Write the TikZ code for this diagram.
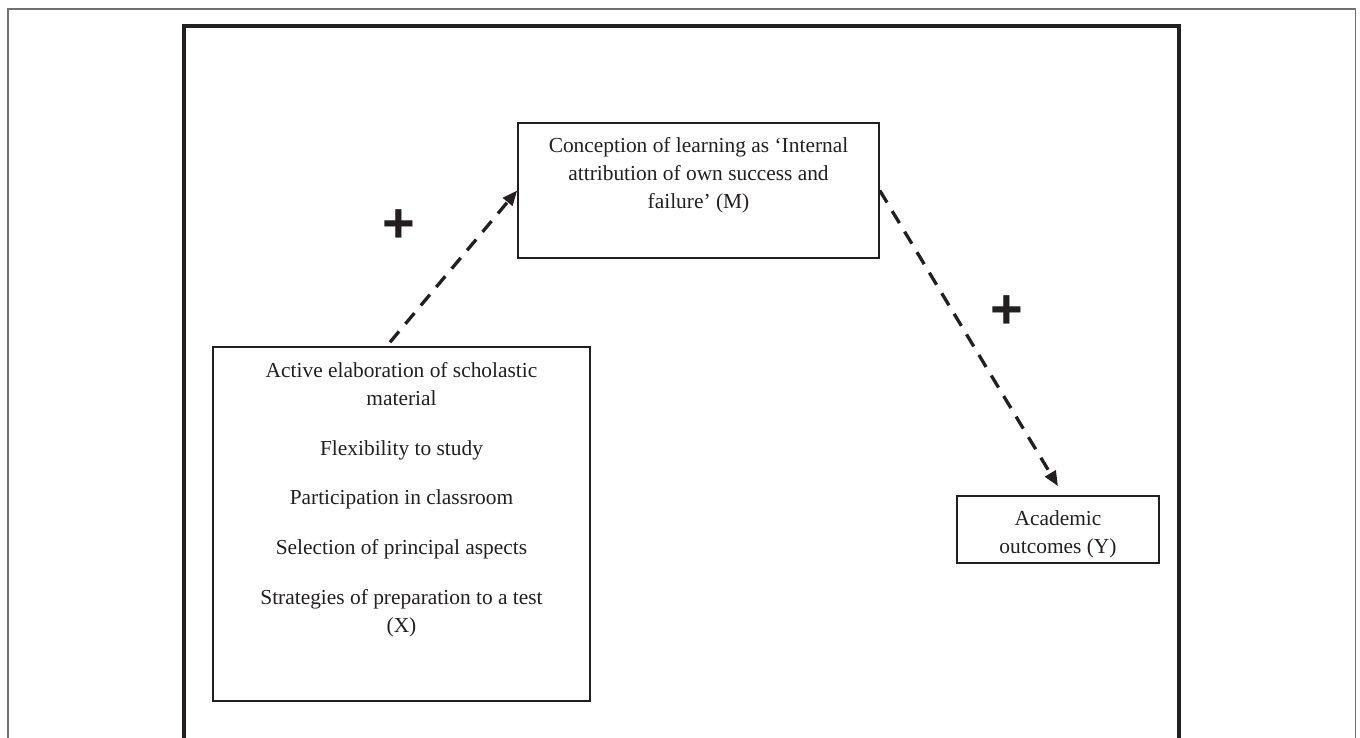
\documentclass[tikz,border=0pt]{standalone}
\usepackage{fontspec}
\setmainfont{Liberation Serif}
\newfontfamily\plusfont{Liberation Sans}
\usetikzlibrary{arrows.meta}

\definecolor{ink}{RGB}{35,31,32}
\definecolor{framegray}{RGB}{112,112,112}

\tikzset{
    varbox/.style={draw=ink, line width=1.6pt, inner sep=0pt, text=ink,
        font=\fontsize{21.4}{28.2}\selectfont},
    effect/.style={ink, line width=3.3pt, dash pattern=on 14pt off 10pt,
        -{Triangle[length=15pt,width=12pt]}},
    plussign/.style={text=ink, inner sep=0pt,
        font=\plusfont\bfseries\fontsize{56}{56}\selectfont}
}

\begin{document}
\begin{tikzpicture}[x=1pt,y=-1pt]
        \useasboundingbox (0,0) rectangle (1360,737);

        % frames
        \draw[framegray, line width=1.5pt] (7.8,745) |- (1355.5,8.8) -- (1355.5,745);
        \draw[ink, line width=4pt] (183.7,745) |- (1179,26.3) -- (1179,745);

        \node[varbox, minimum width=361, minimum height=135] (M) at (698.5,190.5)
            {\parbox[t][106.6pt][t]{345pt}{\centering
            Conception of learning as ‘Internal\\
            attribution of own success and\\
            failure’ (M)}};
        \node[varbox, minimum width=377, minimum height=354] (X) at (401.5,524)
            {\parbox[t][323.6pt][t]{360pt}{\centering
            Active elaboration of scholastic\\material\\[21.5pt]
            Flexibility to study\\[21.5pt]
            Participation in classroom\\[21.5pt]
            Selection of principal aspects\\[21.5pt]
            Strategies of preparation to a test\\(X)}};
        \node[varbox, minimum width=202, minimum height=67] (Y) at (1058,529.5)
            {\parbox[t][38.6pt][t]{190pt}{\centering Academic\\outcomes (Y)}};

        \draw[effect] ([shift={(-11.5,-4)}]X.north) -- (M.west);
        \draw[effect] (M.east) -- ([yshift=9pt]Y.north);

        \foreach \x/\y [count=\i] in {399/226,1007/312}
            \node[plussign] (plus\i) at (\x,\y) {+};
    \end{tikzpicture}
\end{document}
